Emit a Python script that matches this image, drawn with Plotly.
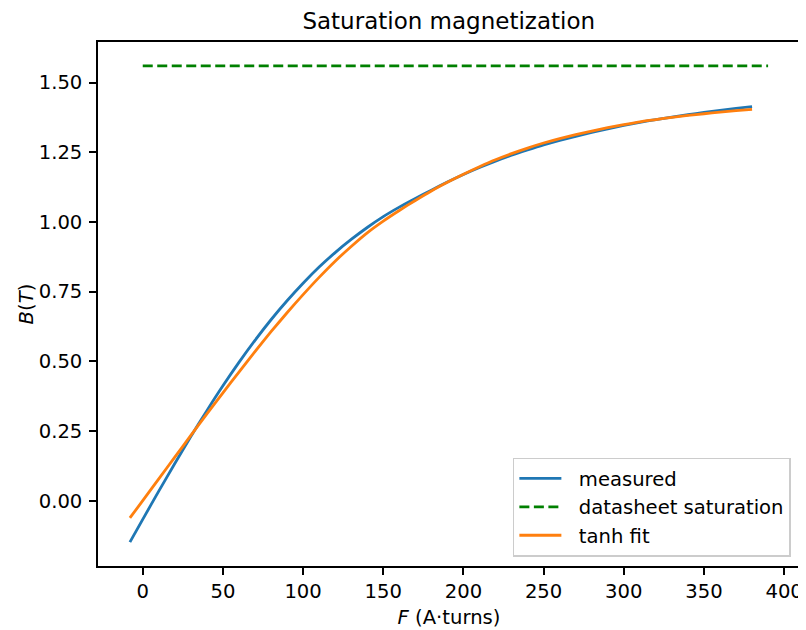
import plotly.graph_objects as go

# ---- data ----
F = [-8, 0, 10, 20, 30, 40, 50, 60, 70, 80, 90, 100, 110, 120, 130, 140, 150, 160, 170, 180,
     190, 200, 210, 220, 230, 240, 250, 260, 270, 280, 290, 300, 310, 320, 330, 340, 350, 360, 370, 380]
B_measured = [-0.149, -0.067, 0.034, 0.133, 0.230, 0.323, 0.412, 0.496, 0.575, 0.649,
              0.717, 0.780, 0.838, 0.890, 0.937, 0.980, 1.019, 1.053, 1.084, 1.114,
              1.143, 1.170, 1.195, 1.218, 1.239, 1.258, 1.276, 1.292, 1.307, 1.321,
              1.334, 1.346, 1.357, 1.367, 1.376, 1.3845, 1.3925, 1.400, 1.407, 1.4135]
B_fit = [-0.062, 0.000, 0.078, 0.156, 0.234, 0.311, 0.387, 0.461, 0.535, 0.606,
         0.674, 0.739, 0.801, 0.859, 0.912, 0.961, 1.003, 1.041, 1.077, 1.111,
         1.142, 1.171, 1.198, 1.223, 1.245, 1.265, 1.283, 1.299, 1.313, 1.326,
         1.338, 1.349, 1.359, 1.367, 1.375, 1.382, 1.388, 1.394, 1.399, 1.404]
F_sat = [0, 390]
B_sat = [1.56, 1.56]

x_ticks = [0, 50, 100, 150, 200, 250, 300, 350, 400]
y_ticks = [0.00, 0.25, 0.50, 0.75, 1.00, 1.25, 1.50]

FONT = "DejaVu Sans"
FS = 19.6     # tick / label / legend font size
FS_T = 23.0   # title font size
OFF = 8  # page body margin offset
GAP = "\u00a0\u00a0"  # extra space between legend handle and label

fig = go.Figure()
fig.add_trace(go.Scatter(x=F, y=B_measured, mode="lines", name=GAP + "measured",
                         line=dict(color="#1f77b4", width=2.8, shape="spline", smoothing=0.6)))
fig.add_trace(go.Scatter(x=F_sat, y=B_sat, mode="lines", name=GAP + "datasheet saturation",
                         line=dict(color="#008000", width=2.8, dash="10px,4.5px")))
fig.add_trace(go.Scatter(x=F, y=B_fit, mode="lines", name=GAP + "tanh fit",
                         line=dict(color="#ff7f0e", width=2.8, shape="spline", smoothing=0.6)))

# axis ranges with 5% margins like the original
allx = F + F_sat
ally = B_measured + B_fit + B_sat
xmin, xmax = min(allx), max(allx)
ymin, ymax = min(ally), max(ally)
dx, dy = (xmax - xmin) * 0.05, (ymax - ymin) * 0.05

axis_common = dict(showline=True, linecolor="black", linewidth=1.5, mirror=True,
                   ticks="outside", ticklen=7, tickwidth=1.5, tickcolor="black",
                   showgrid=False, zeroline=False, automargin=False,
                   tickfont=dict(family=FONT, size=FS, color="black"))

fig.update_xaxes(range=[xmin - dx, xmax + dx], tickvals=x_ticks,
                 ticktext=[str(v) for v in x_ticks],
                 title=dict(text="<i>F</i> (A·turns)", font=dict(family=FONT, size=FS, color="black"),
                            standoff=8),
                 **axis_common)
fig.update_yaxes(range=[ymin - dy, ymax + dy], tickvals=y_ticks,
                 ticktext=[f"{v:.2f}" for v in y_ticks],
                 ticklabelstandoff=3,
                 title=dict(text="<i>B</i>(<i>T</i>)", font=dict(family=FONT, size=FS, color="black"),
                            standoff=0),
                 **axis_common)

W, H = 806 - OFF, 630 - OFF
fig.update_layout(
    width=W, height=H,
    margin=dict(l=97.5 - OFF, r=6, t=42 - OFF, b=64),
    paper_bgcolor="white", plot_bgcolor="white",
    title=dict(text="Saturation magnetization", x=((97.5 + 800) / 2 - OFF) / W, xanchor="center",
               y=1 - (21 - OFF) / H, yanchor="middle",
               font=dict(family=FONT, size=FS_T, color="black")),
    legend=dict(x=0.987, xanchor="right", y=0.018, yanchor="bottom",
                bgcolor="rgba(255,255,255,0.8)", bordercolor="#cccccc", borderwidth=1.5,
                font=dict(family=FONT, size=FS, color="black"),
                tracegroupgap=0, itemwidth=42),
    showlegend=True,
)

fig.write_html("out.html")
